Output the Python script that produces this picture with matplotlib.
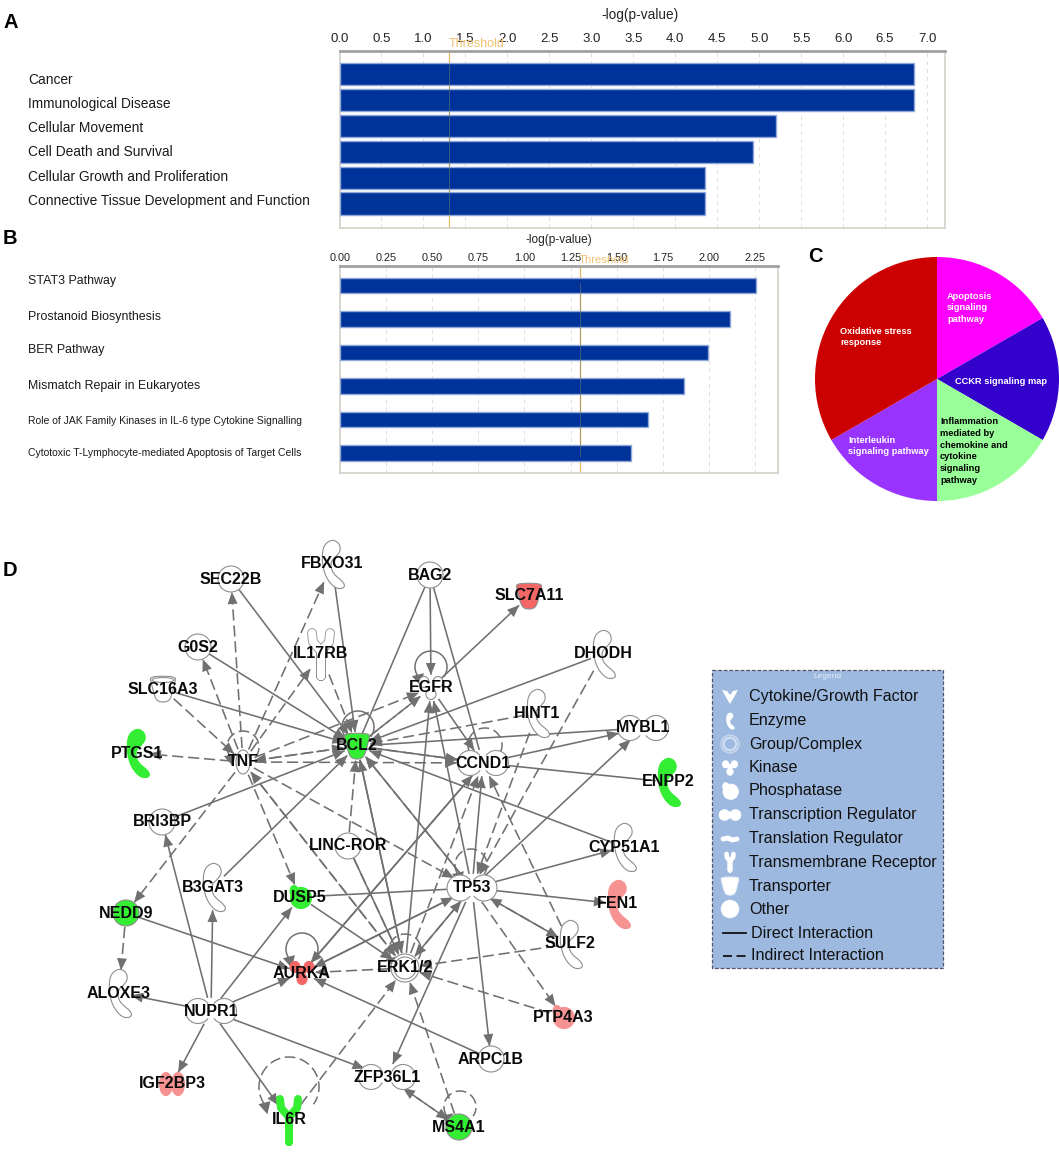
import numpy as np
import matplotlib
matplotlib.use("Agg")
import matplotlib.pyplot as plt
from matplotlib.patches import Polygon, Circle, Ellipse, Rectangle

W, H = 1059, 1153
plt.rcParams['font.family'] = ['Liberation Sans', 'DejaVu Sans']

# ---------- data ----------
cats_a = ["Cancer", "Immunological Disease", "Cellular Movement", "Cell Death and Survival",
          "Cellular Growth and Proliferation", "Connective Tissue Development and Function"]
vals_a = [6.85, 6.85, 5.2, 4.93, 4.35, 4.35]
label_y_a = [80, 104, 128, 152, 177, 201]
ticks_a = [0.0, 0.5, 1.0, 1.5, 2.0, 2.5, 3.0, 3.5, 4.0, 4.5, 5.0, 5.5, 6.0, 6.5, 7.0]
threshold = 1.3

cats_b = ["STAT3 Pathway", "Prostanoid Biosynthesis", "BER Pathway", "Mismatch Repair in Eukaryotes",
          "Role of JAK Family Kinases in IL-6 type Cytokine Signalling",
          "Cytotoxic T-Lymphocyte-mediated Apoptosis of Target Cells"]
vals_b = [2.255, 2.115, 1.996, 1.866, 1.672, 1.58]
label_y_b = [281, 317, 350, 386, 421, 453]
ticks_b = [0.0, 0.25, 0.5, 0.75, 1.0, 1.25, 1.5, 1.75, 2.0, 2.25]

pie_vals = [1, 1, 1, 1, 2]
pie_cols = ['#FF00FF', '#3300CC', '#99FF99', '#9933FF', '#CC0000']

GREEN, RED, PINK = '#33EE33', '#F26666', '#F79292'
# name, x, y, kind, fill
nodes = [
 ("SEC22B", 231, 579, 'c', 'w'), ("FBXO31", 332, 564, 'e', 'w'), ("BAG2", 430, 575, 'c', 'w'),
 ("SLC7A11", 529, 596, 't', RED), ("G0S2", 198, 647, 'c', 'w'), ("IL17RB", 321, 654, 'r', 'w'),
 ("DHODH", 603, 654, 'e', 'w'), ("SLC16A3", 163, 689, 't', 'w'), ("EGFR", 431, 688, 'k', 'w'),
 ("HINT1", 537, 713, 'e', 'w'), ("MYBL1", 643, 728, 'f', 'w'), ("PTGS1", 137, 753, 'e', GREEN),
 ("TNF", 243, 762, 'y', 'w'), ("BCL2", 357, 746, 't', GREEN), ("CCND1", 483, 763, 'f', 'w'),
 ("ENPP2", 668, 782, 'e', GREEN), ("BRI3BP", 162, 822, 'c', 'w'), ("LINC-ROR", 348, 846, 'c', 'w'),
 ("CYP51A1", 624, 847, 'e', 'w'), ("TP53", 472, 888, 'f2', 'w'), ("FEN1", 618, 904, 'e', PINK),
 ("B3GAT3", 213, 887, 'e', 'w'), ("DUSP5", 300, 897, 'p', GREEN), ("NEDD9", 126, 913, 'c', GREEN),
 ("SULF2", 570, 944, 'e', 'w'), ("AURKA", 302, 973, 'k', RED), ("ERK1/2", 405, 968, 'g', 'w'),
 ("ALOXE3", 119, 993, 'e', 'w'), ("NUPR1", 211, 1011, 'f', 'w'), ("PTP4A3", 563, 1017, 'p', PINK),
 ("ARPC1B", 491, 1059, 'c', 'w'), ("ZFP36L1", 387, 1077, 'f3', 'w'), ("IGF2BP3", 172, 1084, 'l', PINK),
 ("IL6R", 289, 1120, 'r', GREEN), ("MS4A1", 459, 1127, 'c', GREEN),
]
dashed_edges = [
 ("TNF","SEC22B"),("TNF","FBXO31"),("TNF","G0S2"),("TNF","PTGS1"),("TNF","IL17RB"),("IL17RB","BCL2"),
 ("TNF","NEDD9"),("TNF","DUSP5"),("TNF","ERK1/2"),("TNF","TP53"),("TNF","BCL2"),("BCL2","TNF"),
 ("TNF","EGFR"),("BCL2","EGFR"),("EGFR","BCL2"),("TNF","CCND1"),("BCL2","CCND1"),("SLC16A3","TNF"),
 ("ERK1/2","TNF"),("HINT1","BCL2"),("HINT1","TP53"),("DHODH","TP53"),("SULF2","CCND1"),("ERK1/2","CCND1"),
 ("TP53","BCL2"),("SULF2","TP53"),("SULF2","ERK1/2"),("PTP4A3","ERK1/2"),("TP53","PTP4A3"),
 ("MS4A1","ERK1/2"),("ZFP36L1","MS4A1"),("MS4A1","ZFP36L1"),("ERK1/2","TP53"),("LINC-ROR","ERK1/2"),
 ("LINC-ROR","BCL2"),("ERK1/2","AURKA"),("IL6R","ERK1/2"),("NEDD9","ALOXE3"),
]
solid_edges = [
 ("SEC22B","BCL2"),("FBXO31","BCL2"),("BAG2","BCL2"),("BAG2","EGFR"),("BAG2","CCND1"),("G0S2","BCL2"),
 ("SLC16A3","BCL2"),("BRI3BP","BCL2"),("B3GAT3","BCL2"),("EGFR","SLC7A11"),("EGFR","CCND1"),("DHODH","BCL2"),
 ("MYBL1","BCL2"),("BCL2","CCND1"),("CCND1","MYBL1"),("ENPP2","CCND1"),("CYP51A1","BCL2"),("TP53","MYBL1"),
 ("TP53","CCND1"),("TP53","CYP51A1"),("TP53","FEN1"),("TP53","SULF2"),("DUSP5","TP53"),("TP53","ARPC1B"),
 ("TP53","ZFP36L1"),("TP53","ERK1/2"),("TP53","AURKA"),("AURKA","TP53"),("TP53","BCL2"),("DUSP5","ERK1/2"),
 ("BCL2","ERK1/2"),("ERK1/2","BCL2"),("ERK1/2","EGFR"),("TP53","EGFR"),("LINC-ROR","ERK1/2"),("NEDD9","AURKA"),
 ("NUPR1","BRI3BP"),("NUPR1","B3GAT3"),("NUPR1","DUSP5"),("NUPR1","AURKA"),("NUPR1","ALOXE3"),
 ("NUPR1","IGF2BP3"),("NUPR1","IL6R"),("NUPR1","ZFP36L1"),("ARPC1B","AURKA"),("CCND1","AURKA"),("AURKA","CCND1"),
]
no_head = {("BAG2","BCL2"),("BAG2","CCND1"),("DUSP5","TP53"),("ENPP2","CCND1"),("EGFR","BCL2"),("MYBL1","BCL2")}
# node, loop centre dx, dy, radius, dashed
loops = [("TNF",0,-15,16,True),("BCL2",1,-19,16,False),("EGFR",0,-21,16,False),("CCND1",2,-18,17,True),
         ("AURKA",0,-24,16,False),("ERK1/2",0,-18,16,True),("TP53",-1,-23,16,True),("IL6R",0,-33,30,True),
         ("MS4A1",1,-20,16,True)]
legend_items = ["Cytokine/Growth Factor","Enzyme","Group/Complex","Kinase","Phosphatase","Transcription Regulator",
                "Translation Regulator","Transmembrane Receptor","Transporter","Other"]
legend_lines = ["Direct Interaction","Indirect Interaction"]

# ---------- figure ----------
fig = plt.figure(figsize=(W/100, H/100), dpi=100, facecolor='white')
def axpx(l, t, r, b, **kw):
    return fig.add_axes([l/W, 1-b/H, (r-l)/W, (b-t)/H], **kw)
PX = 0.72  # points per pixel

def bar_panel(l, t, r, b, x_per, vals, y0, pitch, hgt, ticks, fmt, tickfs, pad, barfc):
    ax = axpx(l, t, r, b)
    ax.set_xlim(0, (r-l)/x_per)
    ax.set_ylim((b-y0)/pitch, -(y0-t)/pitch)
    ax.barh(range(len(vals)), vals, height=hgt, color=barfc, edgecolor='#8FA8D8', linewidth=1, zorder=3)
    ax.set_yticks([])
    ax.xaxis.tick_top()
    ax.set_xticks(ticks)
    ax.set_xticklabels([fmt % v for v in ticks], fontsize=tickfs, color='#222222')
    ax.tick_params(axis='x', length=0, pad=pad)
    ax.grid(axis='x', color='#DDDDDD', ls=(0, (4, 4)), lw=0.7, zorder=1)
    for s in ['left', 'right', 'bottom']:
        ax.spines[s].set_color('#D2D2CA'); ax.spines[s].set_linewidth(1.2)
    ax.spines['top'].set_color('#A0A0A0'); ax.spines['top'].set_linewidth(2)
    ax.axvline(threshold, color='#E8B860', lw=0.9, zorder=2)
    ax.axvline(threshold, color='#777766', lw=0.7, zorder=4, ymin=0.08, ymax=0.92, alpha=0.55)
    return ax

BLUE = '#003399'
bar_panel(339.5, 50.7, 945, 228, 83.93, vals_a, 74, 25.9, 0.85, ticks_a, '%.1f', 9.5, 4, BLUE)
bar_panel(340, 266, 778, 473, 184.4, vals_b, 285.5, 33.5, 0.45, ticks_b, '%.2f', 7.8, 2, BLUE)

# pie
axp = axpx(815, 257, 1059, 501)
axp.pie(pie_vals, colors=pie_cols, startangle=90, counterclock=False, radius=1,
        wedgeprops=dict(linewidth=0))
axp.set_xlim(-1, 1); axp.set_ylim(-1, 1); axp.set_aspect('auto')

# overlay
ov = axpx(0, 0, W, H, zorder=10)
ov.set_xlim(0, W); ov.set_ylim(H, 0); ov.axis('off'); ov.patch.set_alpha(0)

for t, y in zip(cats_a, label_y_a):
    ov.text(28, y, t, fontsize=9.9, va='center', ha='left', color='#1a1a1a')
for i, (t, y) in enumerate(zip(cats_b, label_y_b)):
    ov.text(28, y, t, fontsize=8.9 if i < 4 else 7.5, va='center', ha='left', color='#1a1a1a')
ov.text(640, 15, "-log(p-value)", fontsize=9.8, ha='center', va='center', color='#222')
ov.text(559, 240, "-log(p-value)", fontsize=8.6, ha='center', va='center', color='#222')
ov.text(477, 44, "Threshold", fontsize=9, ha='center', va='center', color='#EFC070')
ov.text(604, 260, "Threshold", fontsize=8.2, ha='center', va='center', color='#EFC070')

for t, x, y in [("A", 3, 22), ("B", 3, 238), ("C", 808, 257), ("D", 3, 570)]:
    ov.text(x, y, t, fontsize=14.5, fontweight='bold', va='center', ha='left', color='black')

pie_txt = [("Apoptosis\nsignaling\npathway", 947, 308, 'white'), ("Oxidative stress\nresponse", 840, 337, 'white'),
           ("CCKR signaling map", 955, 381, 'white'),
           ("Inflammation\nmediated by\nchemokine and\ncytokine\nsignaling\npathway", 940, 451, 'black'),
           ("Interleukin\nsignaling pathway", 848, 446, 'white')]
for t, x, y, c in pie_txt:
    ov.text(x, y, t, fontsize=6.7, fontweight='bold', va='center', ha='left', color=c, linespacing=1.38)

# ---------- network ----------
EDGE = '#8E8E8E'; LINE = '#707070'
def smooth(pts, n=2):
    p = np.array(pts, float)
    for _ in range(n):
        q = np.roll(p, -1, axis=0)
        p = np.column_stack([0.75*p + 0.25*q, 0.25*p + 0.75*q]).reshape(-1, 2)
    return p
ENZ = np.array([(5,-72),(22,-62),(26,-40),(12,-22),(0,-12),(-4,3),(2,28),(37,56),(37,73),(10,74),(-17,43),
                (-29,3),(-29,-37),(-22,-58),(-8,-69)])/3.0
CUP = [(-13,-12),(0,-13),(13,-12),(12,-7),(8,9),(4,13),(-4,13),(-8,9),(-12,-7)]

def draw_shape(ax, kind, x, y, fc, s=1.0, ec=EDGE, z=5, lw=0.8):
    if kind == 'c':
        ax.add_patch(Circle((x, y), 13*s, fc=fc, ec=ec, lw=lw, zorder=z))
    elif kind == 'g':
        ax.add_patch(Circle((x, y), 14*s, fc=fc, ec=ec, lw=lw, zorder=z))
        ax.add_patch(Circle((x, y), 11*s, fc=fc, ec=ec, lw=lw, zorder=z))
    elif kind == 'e':
        ax.add_patch(Polygon(smooth(ENZ*s)+[x, y], closed=True, fc=fc, ec=ec if fc == 'w' else fc, lw=lw, zorder=z))
    elif kind == 't':
        ax.add_patch(Polygon(smooth(np.array(CUP)*s)+[x, y], closed=True, fc=fc, ec=ec, lw=lw, zorder=z))
        if fc == 'w':
            ax.add_patch(Ellipse((x, y-9*s), 22*s, 5*s, fc=fc, ec=ec, lw=lw, zorder=z))
    elif kind in ('f', 'f2', 'f3', 'y'):
        dx = {'f': 13, 'f2': 12, 'f3': 16, 'y': 0}[kind]
        r = {'f': 12.5, 'f2': 13, 'f3': 12.5, 'y': 8}[kind]
        if kind == 'y':
            ax.add_patch(Ellipse((x, y), 14*s, 24*s, fc=fc, ec=ec, lw=lw, zorder=z))
        else:
            for d in (-dx, dx):
                ax.add_patch(Circle((x+d*s, y), r*s, fc=fc, ec=ec, lw=lw, zorder=z))
            ax.add_patch(Ellipse((x, y), 12*s, 17*s, fc=fc, ec='none', zorder=z))
    elif kind == 'k':
        for d in [(-7, -6), (7, -6), (0, 6)]:
            ax.add_patch(Ellipse((x+d[0]*s, y+d[1]*s), 10*s, 11*s, fc=fc, ec=ec if fc == 'w' else fc, lw=lw, zorder=z))
        ax.add_patch(Ellipse((x, y-2*s), 9*s, 9*s, fc=fc, ec='none', zorder=z))
    elif kind == 'p':
        ax.add_patch(Circle((x+1*s, y+1*s), 10.5*s, fc=fc, ec=fc if fc != 'w' else ec, lw=lw, zorder=z))
        ax.add_patch(Ellipse((x-6*s, y-6*s), 8*s, 11*s, fc=fc, ec=fc if fc != 'w' else ec, lw=lw, zorder=z))
    elif kind == 'l':
        for d in (-6, 6):
            ax.add_patch(Ellipse((x+d*s, y), 13*s, 23*s, fc=fc, ec=fc, lw=lw, zorder=z))
    elif kind == 'r':
        xs = np.array([-9, -8, 0, 0, 0, 8, 9])*s + x
        ys = np.array([-21, -12, -3, 22, -3, -12, -21])*s + y
        wd = 8*s*PX
        if fc != GREEN:
            ax.plot(xs, ys, color=ec, lw=wd+1.2, solid_capstyle='round', solid_joinstyle='round', zorder=z)
        ax.plot(xs, ys, color=fc, lw=wd, solid_capstyle='round', solid_joinstyle='round', zorder=z)

RAD = {'c': (14, 14), 'g': (16, 16), 'e': (13, 24), 't': (14, 15), 'f': (27, 14), 'f2': (26, 15), 'f3': (30, 14),
       'y': (12, 14), 'k': (14, 14), 'p': (14, 14), 'l': (14, 14), 'r': (14, 25)}
pos = {n[0]: n for n in nodes}
def boundary(n, ux, uy):
    rx, ry = RAD[n[3]]
    return 1.0/np.sqrt((ux/rx)**2 + (uy/ry)**2)

def edge(a, b, dashed, head=True):
    A, B = pos[a], pos[b]
    d = np.array([B[1]-A[1], B[2]-A[2]], float); L = np.hypot(*d); u = d/L
    p0 = np.array(A[1:3], float) + u*boundary(A, *u)
    p1 = np.array(B[1:3], float) - u*boundary(B, *u)
    ls = (0, (7, 3)) if dashed else '-'
    ov.plot([p0[0], p1[0]], [p0[1], p1[1]], color=LINE, lw=1.15, ls=ls, zorder=3)
    if head:
        n = np.array([-u[1], u[0]])
        ov.add_patch(Polygon([p1+u*1, p1-u*11+n*5, p1-u*11-n*5], closed=True, fc=LINE, ec='none', zorder=4))

for a, b in dashed_edges:
    edge(a, b, True, (a, b) not in no_head)
for a, b in solid_edges:
    edge(a, b, False, (a, b) not in no_head)

for nm, dx, dy, r, ds in loops:
    n = pos[nm]
    th = np.radians(np.linspace(-215, 35, 60))
    cx, cy = n[1]+dx, n[2]+dy
    xs, ys = cx + r*np.cos(th), cy + r*np.sin(th)
    ov.plot(xs, ys, color=LINE, lw=1.1, ls=(0, (7, 3)) if ds else '-', zorder=3)
    hx, hy = xs[0], ys[0]
    ov.add_patch(Polygon([(hx+3, hy+10), (hx-6, hy), (hx+6, hy-3)], closed=True, fc=LINE, ec='none', zorder=4))

for n in nodes:
    draw_shape(ov, n[3], n[1], n[2], n[4])
    ov.text(n[1], n[2], n[0], fontsize=11.5, fontweight='bold', ha='center', va='center', color='#0a0a0a', zorder=8)

# ---------- legend ----------
ov.add_patch(Rectangle((712, 670), 231, 298, fc='#9DB9E0', ec='#555566', lw=0.9, ls=(0, (3, 1.5)), zorder=6))
ov.text(827, 677, "Legend", fontsize=6, color='#E8EEF8', ha='center', va='center', zorder=8)
ly = [697, 721, 744, 768, 791, 815, 839, 862, 886, 909]
kinds = ['cy', 'e', 'g', 'k', 'p', 'f', 'l2', 'r', 't', 'c']
for t, y, k in zip(legend_items, ly, kinds):
    ov.text(749, y, t, fontsize=11.6, va='center', ha='left', color='#111', zorder=8)
    x = 730
    if k == 'cy':
        ov.add_patch(Polygon([(x-8, y-7), (x-3, y-6), (x, y-2), (x+3, y-6), (x+8, y-7), (x+3, y+2), (x, y+7), (x-3, y+2)],
                             closed=True, fc='white', ec='none', zorder=7))
    elif k == 'e':
        draw_shape(ov, 'e', x, y, 'white', s=0.33, ec='#E8EEF8', z=7)
    elif k == 'g':
        ov.add_patch(Circle((x, y), 9, fc='#B4C8E8', ec='#C8D6EC', lw=1, zorder=7))
        ov.add_patch(Circle((x, y), 6, fc='#9DB9E0', ec='#E0E8F4', lw=1, zorder=7))
    elif k == 'k':
        draw_shape(ov, 'k', x, y, 'white', s=0.62, ec='white', z=7)
    elif k == 'p':
        draw_shape(ov, 'p', x, y, 'white', s=0.72, ec='white', z=7)
    elif k == 'f':
        draw_shape(ov, 'f', x, y, 'white', s=0.42, ec='white', z=7)
    elif k == 'l2':
        ov.plot([x-7, x-2, x+2, x+7], [y, y-1, y+1, y], color='white', lw=3.5, solid_capstyle='round', zorder=7)
    elif k == 'r':
        draw_shape(ov, 'r', x, y, 'white', s=0.38, ec='white', z=7)
    elif k == 't':
        draw_shape(ov, 't', x, y, 'white', s=0.7, ec='#E8EEF8', z=7)
    else:
        ov.add_patch(Circle((x, y), 8.5, fc='white', ec='white', zorder=7))
ov.plot([723, 746], [933, 933], color='#111', lw=1.3, zorder=7)
ov.plot([723, 746], [956, 956], color='#111', lw=1.3, ls=(0, (5, 2.5)), zorder=7)
ov.text(751, 933, legend_lines[0], fontsize=11.6, va='center', ha='left', color='#111', zorder=8)
ov.text(751, 956, legend_lines[1], fontsize=11.6, va='center', ha='left', color='#111', zorder=8)

fig.savefig("out.png", dpi=100, facecolor='white')
